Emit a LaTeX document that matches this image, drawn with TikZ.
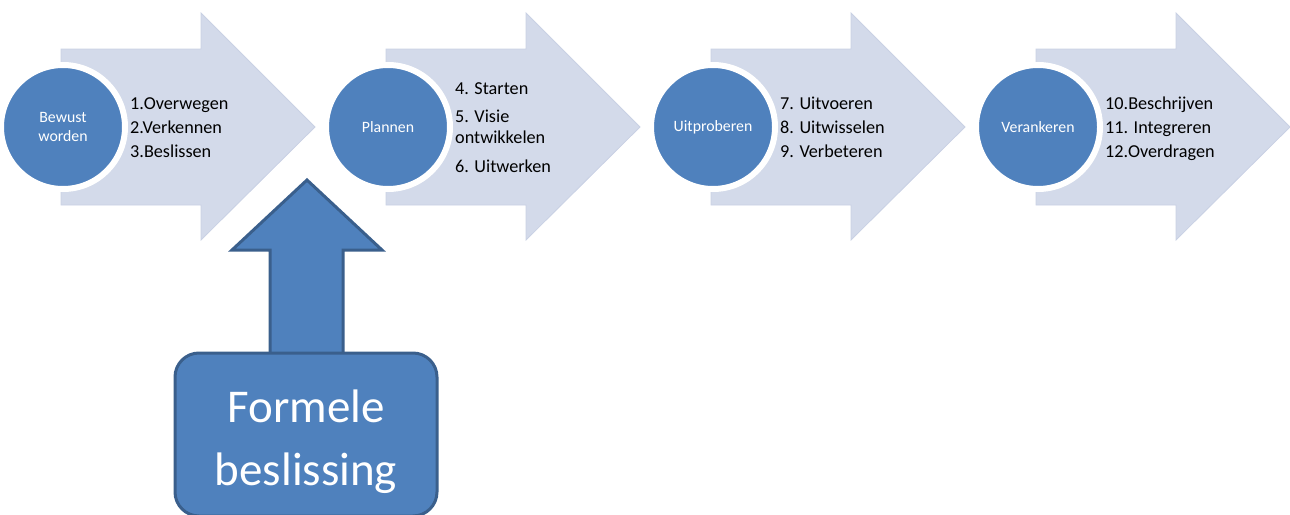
\documentclass[tikz,border=0pt]{standalone}
\usepackage{fontspec}
\setmainfont{Carlito}
\definecolor{cblue}{HTML}{4F81BD}
\definecolor{cdark}{HTML}{3A5F8C}
\definecolor{clight}{HTML}{D3DAEA}
\definecolor{cedge}{HTML}{C9D1E4}
\tikzset{
  bigarrow/.style={fill=clight, draw=cedge, line width=0.8pt},
  phase/.style={circle, fill=cblue, draw=white, line width=6pt, minimum size=124pt, inner sep=0pt,
    text=white, align=center, font=\fontsize{15.8}{19}\selectfont},
  item/.style={anchor=base west, inner sep=0pt, font=\fontsize{18.2}{24}\selectfont},
  decbox/.style={rounded corners=24pt, fill=cblue, draw=cdark, line width=3pt,
    minimum width=262pt, minimum height=163pt, inner sep=0pt},
  bigtext/.style={anchor=base, inner sep=0pt, text=white, font=\fontsize{47}{63}\selectfont},
  uparrow/.style={fill=cblue, draw=cdark, line width=3pt, line join=miter}
}
\begin{document}
\begin{tikzpicture}[x=1pt,y=-1pt]
\useasboundingbox (0,0) rectangle (1290,514);
% block arrows
\foreach \o in {0,325,650,975} {
  \draw[bigarrow] (61+\o,49) -- (201+\o,49) -- (201+\o,13) -- (315+\o,127)
     -- (201+\o,240) -- (201+\o,205) -- (61+\o,205) -- cycle;
}
% phase circles
\node[phase] (c1) at (63,127) {Bewust\\worden};
\node[phase] (c2) at (388,127) {Plannen};
\node[phase] (c3) at (713,127) {Uitproberen};
\node[phase] (c4) at (1038,127) {Verankeren};
% lists
\node[item] (t1a) at (130,109) {1.Overwegen};
\node[item] (t1b) at (130,133) {2.Verkennen};
\node[item] (t1c) at (130,157) {3.Beslissen};
\node[item] (t2a) at (455,94) {4. Starten};
\node[item] (t2b) at (455,122) {5. Visie};
\node[item] (t2c) at (455,143) {ontwikkelen};
\node[item] (t2d) at (455,172) {6. Uitwerken};
\node[item] (t3a) at (780,109) {7. Uitvoeren};
\node[item] (t3b) at (780,133) {8. Uitwisselen};
\node[item] (t3c) at (780,157) {9. Verbeteren};
\node[item] (t4a) at (1105,109) {10.Beschrijven};
\node[item] (t4b) at (1105,133) {11. Integreren};
\node[item] (t4c) at (1105,157) {12.Overdragen};
% up arrow and decision box
\draw[uparrow] (270,356) -- (270,250) -- (232,250) -- (307,180) -- (382,250)
   -- (343,250) -- (343,356);
\node[decbox] (fb) at (306,434.5) {};
\node[bigtext] (fb1) at (306,422) {Formele};
\node[bigtext] (fb2) at (306,485) {beslissing};
\end{tikzpicture}
\end{document}
